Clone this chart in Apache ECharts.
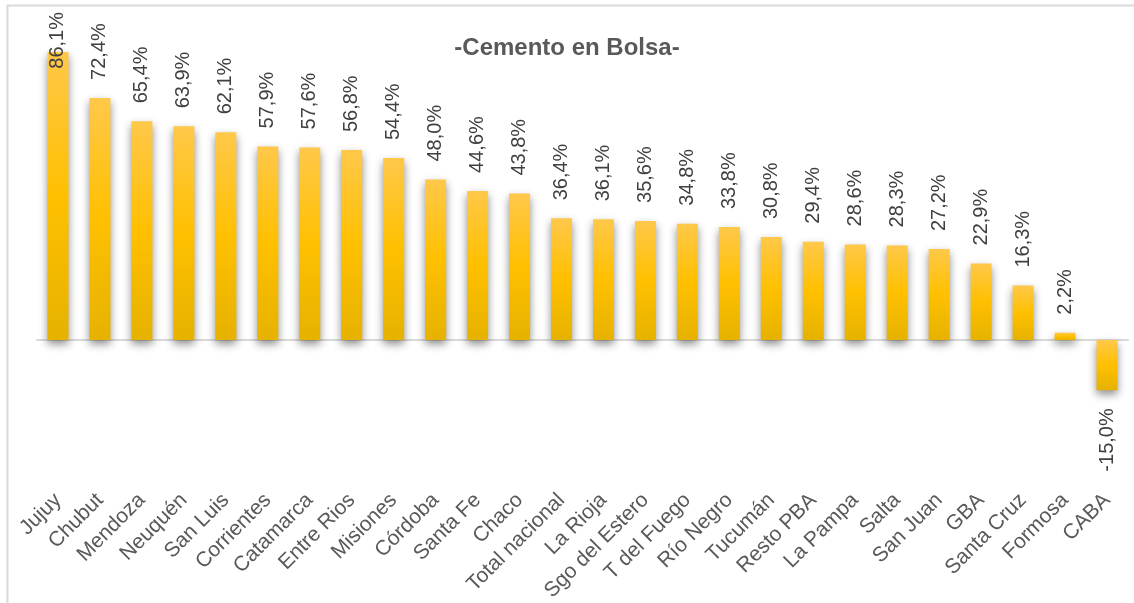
<!DOCTYPE html>
<html>
<head>
<meta charset="utf-8">
<script src="https://cdn.jsdelivr.net/npm/echarts@6/dist/echarts.min.js"></script>
<style>
html,body{margin:0;padding:0;background:#fff;}
#c{width:1134px;height:603px;}
</style>
</head>
<body>
<div id="c"></div>
<script>
const categories = ["Jujuy","Chubut","Mendoza","Neuquén","San Luis","Corrientes","Catamarca","Entre Rios","Misiones","Córdoba","Santa Fe","Chaco","Total nacional","La Rioja","Sgo del Estero","T del Fuego","Río Negro","Tucumán","Resto PBA","La Pampa","Salta","San Juan","GBA","Santa Cruz","Formosa","CABA"];
const values = [86.1,72.4,65.4,63.9,62.1,57.9,57.6,56.8,54.4,48.0,44.6,43.8,36.4,36.1,35.6,34.8,33.8,30.8,29.4,28.6,28.3,27.2,22.9,16.3,2.2,-15.0];
const title = "-Cemento en Bolsa-";

const LABEL_FONT = 20, LABEL_DIST = 18, TOP_LIMIT = 12;
const fmt = v => v.toFixed(1).replace('.',',') + '%';
const chart = echarts.init(document.getElementById('c'));
const grad = new echarts.graphic.LinearGradient(0,0,0,1,[
  {offset:0,color:'#FFC84A'},
  {offset:0.5,color:'#FFC000'},
  {offset:1,color:'#E6B200'}
]);
const data = values.map(v => v < 0
  ? {value:v, label:{position:'bottom', align:'right'}}
  : {value:v});
chart.setOption({
  animation:false,
  graphic:[{type:'rect', shape:{x:7.5,y:5.5,width:1140,height:610}, style:{fill:'none', stroke:'#d9d9d9', lineWidth:2}}],
  title:{text:title, left:'center', top:31, textStyle:{fontFamily:'Liberation Sans', fontWeight:'bold', fontSize:24, color:'#595959'}},
  grid:{left:37, right:6, top:39, bottom:196, containLabel:false, outerBoundsMode:'none'},
  xAxis:{type:'category', data:categories,
    axisLine:{onZero:true, lineStyle:{color:'#d9d9d9', width:2}},
    axisTick:{show:false},
    axisLabel:{rotate:45, interval:0, margin:90, color:'#595959', fontFamily:'Liberation Sans', fontSize:21}
  },
  yAxis:{type:'value', min:-20, max:90, show:false, splitLine:{show:false}},
  series:[{type:'bar', data:data, barWidth:21,
    itemStyle:{color:grad, shadowColor:'rgba(0,0,0,0.45)', shadowBlur:8, shadowOffsetX:0, shadowOffsetY:4},
    label:{show:true, position:'top', rotate:90, align:'left', verticalAlign:'middle', distance:LABEL_DIST,
      color:'#404040', fontFamily:'Liberation Sans', fontSize:LABEL_FONT,
      formatter:p => fmt(p.value)}
  }]
});
// keep labels inside the chart (like Excel does): labels that would overflow the top are pulled down
const ctx = document.createElement('canvas').getContext('2d');
ctx.font = LABEL_FONT + 'px "Liberation Sans"';
let changed = false;
values.forEach((v, i) => {
  if (v <= 0) return;
  const y = chart.convertToPixel({gridIndex:0}, [i, v])[1];
  const len = ctx.measureText(fmt(v)).width;
  if (y - LABEL_DIST - len < TOP_LIMIT) {
    data[i] = {value:v, label:{position:'insideTop', align:'right', distance: TOP_LIMIT - y}};
    changed = true;
  }
});
if (changed) chart.setOption({series:[{data:data}]});
</script>
</body>
</html>
